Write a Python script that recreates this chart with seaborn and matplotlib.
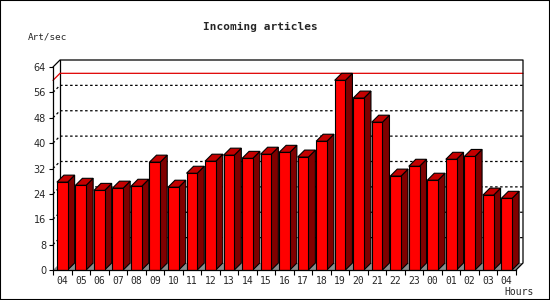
import numpy as np
import pandas as pd
import matplotlib
matplotlib.use("Agg")
import matplotlib.pyplot as plt
from matplotlib.patches import Polygon, Rectangle
import seaborn as sns

# ---- data ----
hours = ["04", "05", "06", "07", "08", "09", "10", "11", "12", "13", "14", "15", "16",
         "17", "18", "19", "20", "21", "22", "23", "00", "01", "02", "03", "04"]
rates = [27.7, 26.7, 25.1, 25.8, 26.4, 34.0, 26.1, 30.5, 34.3, 36.2, 35.2, 36.5, 37.1,
         35.6, 40.6, 59.8, 54.2, 46.6, 29.6, 32.7, 28.3, 34.9, 35.8, 23.6, 22.6]
yticks = [0, 8, 16, 24, 32, 40, 48, 56, 64]

title = "Incoming articles"
ylabel = "Art/sec"
xlabel = "Hours"

FRONT = "#ff0000"
TOP = "#c40000"
SIDE = "#800000"
FLOOR = "#8c8c8c"

sns.set_theme(style="white")
plt.rcParams["font.family"] = ["DejaVu Sans Mono", "DejaVu Sans"]

W, H = 550, 300
fig = plt.figure(figsize=(W / 100, H / 100), dpi=100)
fig.patch.set_facecolor("white")

# front plot area in pixels
L, R, B, T = 53, 516, 270, 67
ax = fig.add_axes([L / W, 1 - B / H, (R - L) / W, (B - T) / H])
ax.set_facecolor("none")

n = len(rates)
ymax = 64
ax.set_xlim(-0.5, n - 0.5)
ax.set_ylim(0, ymax)

px_x = (R - L) / n          # pixels per x unit
px_y = (B - T) / ymax       # pixels per y unit
depth = 7
dx = depth / px_x
dy = depth / px_y

x0, x1 = -0.5, n - 0.5

# back wall
ax.add_patch(Polygon([(x0 + dx, dy), (x1 + dx, dy), (x1 + dx, ymax + dy), (x0 + dx, ymax + dy)],
                     closed=True, facecolor="white", edgecolor="none", zorder=0.5, clip_on=False))
# floor
ax.add_patch(Polygon([(x0, 0), (x1, 0), (x1 + dx, dy), (x0 + dx, dy)],
                     closed=True, facecolor=FLOOR, edgecolor="none", zorder=0.8, clip_on=False))

# gridlines (back wall + left wall diagonals)
for v in yticks[1:-1]:
    ax.plot([x0, x0 + dx, x1 + dx], [v, v + dy, v + dy], color="black", lw=0.9,
            ls=(0, (2, 2)), zorder=0.6, clip_on=False)

# back wall frame
ax.plot([x0, x0 + dx, x1 + dx, x1 + dx, x1], [ymax, ymax + dy, ymax + dy, dy, 0],
        color="black", lw=0.9, zorder=3, clip_on=False)
ax.plot([x0 + dx, x0 + dx], [dy, ymax + dy], color="black", lw=0.9, zorder=0.7, clip_on=False)

# max line
m = max(rates)
ax.plot([x0, x0 + dx, x1 + dx], [m, m + dy, m + dy], color="#e00000", lw=0.9,
        zorder=0.7, clip_on=False)

# bars
df = pd.DataFrame({"slot": list(range(n)), "rate": rates})
sns.barplot(data=df, x="slot", y="rate", color=FRONT, saturation=1, width=0.58,
            edgecolor="black", linewidth=0.8, ax=ax, zorder=2)

for p in list(ax.patches):
    if not isinstance(p, Rectangle):
        continue
    bx, bw, bh = p.get_x(), p.get_width(), p.get_height()
    if bw > 1:
        continue
    p.set_facecolor(FRONT)
    p.set_zorder(2.2)
    side = Polygon([(bx + bw, 0), (bx + bw + dx, dy), (bx + bw + dx, bh + dy), (bx + bw, bh)],
                   closed=True, facecolor=SIDE, edgecolor="black", lw=0.8, zorder=2.1, clip_on=False)
    top = Polygon([(bx, bh), (bx + bw, bh), (bx + bw + dx, bh + dy), (bx + dx, bh + dy)],
                  closed=True, facecolor=TOP, edgecolor="black", lw=0.8, zorder=2.1, clip_on=False)
    ax.add_patch(side)
    ax.add_patch(top)

ax.set_xlim(-0.5, n - 0.5)
ax.set_ylim(0, ymax)

# spines
for s in ["top", "right"]:
    ax.spines[s].set_visible(False)
for s in ["left", "bottom"]:
    ax.spines[s].set_color("black")
    ax.spines[s].set_linewidth(0.9)
    ax.spines[s].set_zorder(3)

ax.set_yticks(yticks)
ax.set_yticklabels([str(v) for v in yticks], fontfamily="DejaVu Sans", fontsize=7)
ax.tick_params(axis="y", direction="out", length=3, width=0.8, pad=2, color="black", left=True)

ax.set_xticks(range(n))
ax.set_xticklabels(hours, fontsize=7)
ax.set_xticks([i - 0.5 for i in range(n + 1)], minor=True)
ax.tick_params(axis="x", which="major", length=0, pad=4)
ax.tick_params(axis="x", which="minor", direction="out", length=3.5, width=0.8, color="black", bottom=True)
ax.set_xlabel("")
ax.set_ylabel("")

fig.text(260 / W, 1 - 27 / H, title, ha="center", va="center", fontsize=8, fontweight="bold")
fig.text(28 / W, 1 - 37 / H, ylabel, ha="left", va="center", fontsize=6.7)
fig.text(534 / W, 1 - 292 / H, xlabel, ha="right", va="center", fontsize=7)

fig.add_artist(Rectangle((0, 0), 1, 1, transform=fig.transFigure, fill=False,
                         edgecolor="black", lw=1.5))

fig.savefig("out.png", dpi=100)
